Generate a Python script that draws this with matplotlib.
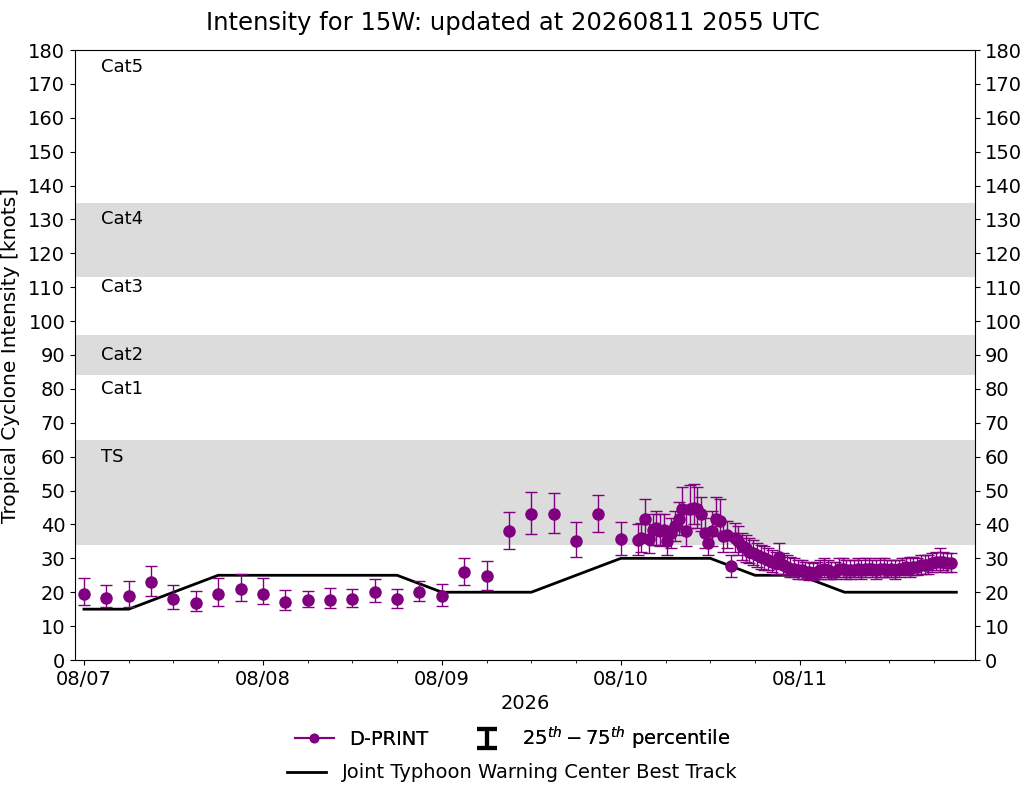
import numpy as np
import matplotlib
matplotlib.use("Agg")
import matplotlib.pyplot as plt
import matplotlib.dates as mdates
from matplotlib.lines import Line2D
from datetime import datetime, timedelta

start = datetime(2026, 8, 7, 0)

# D-PRINT estimates: hours since 08/07 00Z, median and 25th/75th percentiles
dp_hours_early = np.arange(0, 73, 3)
dp_hours_dense = 74.25 + 0.5 * np.arange(85)
dp_hours = np.concatenate([dp_hours_early, dp_hours_dense])

dp_med = [19.4, 18.2, 18.9, 22.9, 17.9, 16.7, 19.4, 20.9, 19.6, 17.2, 17.7, 17.7, 17.9,
          20.1, 17.9, 20.0, 18.8, 26.0, 24.7, 38.1, 43.0, 43.0, 35.0, 43.0, 35.6,
          35.5, 36.0, 41.5, 35.8, 38.5, 39.0, 38.0, 38.5, 35.0, 37.5, 39.5, 41.5, 44.5,
          38.0, 44.5, 45.0, 44.5, 43.0, 37.5, 34.5, 38.0, 41.5, 41.0, 36.5, 37.0, 27.8,
          36.0, 35.0, 33.5, 33.0, 32.0, 31.5, 31.0, 30.5, 30.0, 29.5, 29.0, 28.5, 30.5,
          28.0, 27.5, 27.0, 27.0, 26.5, 26.5, 26.0, 26.0, 25.5, 26.0, 26.5, 27.0, 26.5,
          26.0, 26.0, 27.0, 27.0, 26.5, 26.5, 26.5, 27.0, 26.5, 27.0, 27.0, 27.0, 26.5,
          27.0, 27.0, 26.5, 27.0, 26.5, 27.0, 27.0, 27.5, 27.0, 27.5, 27.5, 28.0, 28.0,
          28.0, 28.5, 29.0, 29.0, 29.0, 28.5, 28.5]
dp_p25 = [16.1, 15.6, 15.7, 19.0, 15.0, 14.4, 15.9, 17.3, 16.4, 14.7, 15.5, 15.2, 15.6,
          17.0, 15.2, 17.3, 15.8, 22.0, 20.8, 32.7, 37.2, 37.4, 30.3, 37.7, 31.0,
          31.0, 32.0, 36.0, 31.5, 34.0, 34.0, 33.5, 34.0, 31.0, 33.0, 35.0, 37.0, 39.5,
          33.5, 39.0, 40.0, 39.0, 38.0, 33.0, 31.0, 33.5, 37.0, 36.5, 32.0, 33.0, 24.5,
          32.0, 31.0, 29.5, 29.0, 28.5, 28.0, 27.5, 27.0, 26.5, 26.5, 26.0, 25.5, 27.0,
          25.5, 25.0, 24.5, 24.5, 24.0, 24.0, 24.0, 23.5, 23.5, 24.0, 24.0, 24.5, 24.0,
          24.0, 24.0, 24.5, 24.5, 24.0, 24.0, 24.5, 24.5, 24.0, 24.5, 25.0, 24.5, 24.0,
          24.5, 24.5, 24.5, 24.5, 24.0, 24.5, 25.0, 25.0, 24.5, 25.0, 25.0, 25.5, 25.5,
          25.5, 26.0, 26.5, 26.0, 26.5, 26.0, 26.0]
dp_p75 = [24.1, 22.0, 23.2, 27.6, 22.0, 20.3, 24.1, 25.5, 24.3, 20.7, 20.3, 21.2, 20.9,
          23.8, 20.9, 23.2, 22.3, 30.0, 29.1, 43.6, 49.5, 49.2, 40.6, 48.6, 40.8,
          40.0, 40.5, 47.5, 40.0, 43.0, 44.0, 43.0, 43.0, 39.5, 42.0, 44.0, 46.5, 51.0,
          43.0, 51.5, 52.0, 51.0, 48.0, 42.0, 38.5, 44.0, 48.0, 47.5, 41.0, 41.0, 31.0,
          40.5, 39.5, 37.5, 37.0, 36.0, 35.5, 34.5, 34.0, 33.5, 33.0, 32.5, 32.0, 34.5,
          31.5, 31.0, 30.5, 30.0, 29.5, 29.5, 29.0, 29.0, 28.5, 29.0, 29.5, 30.0, 29.5,
          29.0, 29.0, 30.0, 30.0, 29.5, 29.5, 29.5, 30.0, 29.5, 30.0, 30.0, 29.5, 29.5,
          30.0, 30.0, 29.5, 29.5, 29.5, 29.5, 30.0, 30.0, 30.5, 30.5, 30.0, 31.0, 31.0,
          31.0, 31.5, 32.0, 33.0, 32.0, 31.5, 31.5]

# JTWC best track
bt_hours = [0, 6, 12, 18, 24, 30, 36, 42, 48, 54, 60, 66, 72, 78, 84, 90, 96, 102, 108, 114, 117]
bt_vmax = [15, 15, 20, 25, 25, 25, 25, 25, 20, 20, 20, 25, 30, 30, 30, 25, 25, 20, 20, 20, 20]

# category bands (shaded) and labels
bands = [(34, 65), (84, 96), (113, 135)]
cat_names = ["TS", "Cat1", "Cat2", "Cat3", "Cat4", "Cat5"]
cat_label_y = [60, 80, 90, 110, 130, 175]

to_dt = lambda hrs: [start + timedelta(hours=float(h)) for h in hrs]
dp_t = to_dt(dp_hours)
bt_t = to_dt(bt_hours)

dp_med = np.array(dp_med)
yerr = [dp_med - np.array(dp_p25), np.array(dp_p75) - dp_med]

fig = plt.figure(figsize=(10.25, 7.85), dpi=100)
ax = fig.add_axes([75/1025, 1-660/785, 900/1025, 610/785])

for lo, hi in bands:
    ax.axhspan(lo, hi, color="#dcdcdc", lw=0, zorder=0)
for name, yv in zip(cat_names, cat_label_y):
    ax.text(0.029, yv, name, transform=ax.get_yaxis_transform(), fontsize=13, va="center", ha="left")

ax.plot(bt_t, bt_vmax, color="k", lw=2, zorder=2)
ax.errorbar(dp_t, dp_med, yerr=yerr, fmt="o", color="purple", ms=8, capsize=4,
            elinewidth=1, capthick=1, zorder=3)

ax.set_ylim(0, 180)
ax.set_yticks(np.arange(0, 181, 10))
ax.set_xlim(start - timedelta(hours=1.2), start + timedelta(hours=119.5))
ax.xaxis.set_major_locator(mdates.DayLocator())
ax.xaxis.set_major_formatter(mdates.DateFormatter("%m/%d"))
ax.xaxis.set_minor_locator(mdates.HourLocator(byhour=[6, 12, 18]))
ax.tick_params(axis="both", labelsize=14)
ax.tick_params(axis="y", right=True, labelright=True)
ax.set_xlabel("2026", fontsize=14)
ax.set_ylabel("Tropical Cyclone Intensity [knots]", fontsize=14.5, labelpad=6)

fig.suptitle("Intensity for 15W: updated at 20260811 2055 UTC", fontsize=17.5, y=0.971, va="center")

# legend
h_dp = Line2D([], [], color="purple", marker="o", ms=6, lw=1.5)
h_iqr = ax.errorbar([np.nan], [np.nan], yerr=[[1], [1]], fmt="none", ecolor="k",
                    elinewidth=3, capsize=7, capthick=3)
h_bt = Line2D([], [], color="k", lw=2)
leg1 = fig.legend([h_dp, h_iqr], ["D-PRINT", r"$25^{th} - 75^{th}$ percentile"], ncol=2,
                  loc="center", bbox_to_anchor=(0.5, 1-738/785), frameon=False, fontsize=14)
fig.add_artist(leg1)
fig.legend([h_bt], ["Joint Typhoon Warning Center Best Track"], loc="center",
           bbox_to_anchor=(0.5, 1-773/785), frameon=False, fontsize=14)

fig.savefig("out.png", dpi=100)
